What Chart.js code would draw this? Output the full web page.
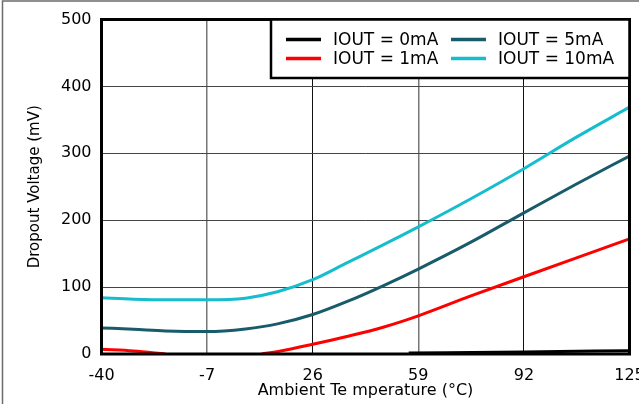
<!DOCTYPE html>
<html lang="en">
<head>
<meta charset="UTF-8">
<title>Dropout Voltage vs Ambient Temperature</title>
<script src="https://cdn.jsdelivr.net/npm/chart.js"></script>
<style>
  html, body { margin: 0; padding: 0; background: #fff; }
</style>
</head>
<body>
<canvas id="dropoutChart" width="639" height="404"></canvas>
<script>
// values (mV vs degC)
const xTicks = [-40, -7, 26, 59, 92, 125];
const yTicks = [0, 100, 200, 300, 400, 500];

const seriesNames = ['IOUT = 0mA', 'IOUT = 1mA', 'IOUT = 5mA', 'IOUT = 10mA'];
const seriesColors = ['#000000', '#ff0000', '#185b6a', '#16bdcd'];

const temps0mA = [56, 92, 125];
const volts0mA = [1.5, 3, 5];

// 1mA curve dips under 0 between -20 and 10, so it has a gap there
const temps1mA = [-40, -30, -20, -5, 10, 16, 26, 37, 48, 59, 75, 92, 108, 125];
const volts1mA = [7, 4.5, 0, null, 0, 4.5, 14.5, 26.5, 40, 57, 86, 115.5, 143, 172];

const temps = [-40, -30, -20, -7, 5, 15, 26, 37, 48, 59, 75, 92, 108, 125];
const volts5mA = [39, 37, 34.5, 33.5, 37.5, 45, 59, 79, 102, 127, 166, 211, 253, 296];
const volts10mA = [84, 82, 81, 81, 83.5, 93, 111, 137, 163, 190, 231, 277, 323, 369];

const toPoints = (xs, ys) => xs.map((x, i) => ({ x: x, y: ys[i] }));

const frameAndLegend = {
    id: 'frameAndLegend',
    beforeDraw(chart) {
        const { ctx, width, height } = chart;
        ctx.save();
        ctx.fillStyle = '#fff';
        ctx.fillRect(0, 0, width, height);
        // outer border of the figure (only top/left show)
        ctx.strokeStyle = '#6b6b6b';
        ctx.lineWidth = 1.5;
        ctx.beginPath();
        ctx.moveTo(2.5, height);
        ctx.lineTo(2.5, 1);
        ctx.lineTo(width, 1);
        ctx.stroke();
        ctx.restore();
    },
    afterDatasetsDraw(chart) {
        const { ctx, chartArea: a } = chart;
        ctx.save();
        ctx.strokeStyle = '#000';
        ctx.lineWidth = 3;
        ctx.strokeRect(a.left, a.top, a.right - a.left, a.bottom - a.top);

        // legend box, top right inside the plot
        const bw = 358.5, bh = 58.5;
        const bx = a.right - bw, by = a.top;
        ctx.fillStyle = '#fff';
        ctx.fillRect(bx, by, bw, bh);
        ctx.lineWidth = 2.5;
        ctx.strokeRect(bx, by, bw, bh);
        ctx.font = '17px "DejaVu Sans"';
        ctx.textBaseline = 'middle';
        chart.data.datasets.forEach((ds, i) => {
            const col = Math.floor(i / 2), row = i % 2;
            const lx = bx + 15 + col * 165;
            const ly = by + 20 + row * 19;
            ctx.strokeStyle = ds.borderColor;
            ctx.lineWidth = 3.5;
            ctx.beginPath();
            ctx.moveTo(lx, ly);
            ctx.lineTo(lx + 35, ly);
            ctx.stroke();
            ctx.fillStyle = '#000';
            ctx.fillText(ds.label, lx + 47, ly + 1);
        });
        ctx.restore();
    }
};

const allTemps = [temps0mA, temps1mA, temps, temps];
const allVolts = [volts0mA, volts1mA, volts5mA, volts10mA];

new Chart(document.getElementById('dropoutChart'), {
    type: 'line',
    data: {
        datasets: seriesNames.map((name, i) => ({
            label: name,
            data: toPoints(allTemps[i], allVolts[i]),
            borderColor: seriesColors[i],
            backgroundColor: seriesColors[i],
            borderWidth: 3,
            pointRadius: 0,
            fill: false,
            spanGaps: false,
            cubicInterpolationMode: 'monotone'
        }))
    },
    options: {
        responsive: false,
        animation: false,
        devicePixelRatio: 1,
        layout: { padding: { left: 0, right: 9.5, top: 19.5, bottom: 0 } },
        plugins: {
            legend: { display: false },
            tooltip: { enabled: false }
        },
        scales: {
            x: {
                type: 'linear',
                min: -40,
                max: 125,
                afterBuildTicks: s => { s.ticks = xTicks.map(v => ({ value: v })); },
                afterFit: s => { s.height = 50; s.paddingLeft = 0; s.paddingRight = 0; },
                ticks: {
                    color: '#000',
                    font: { family: 'DejaVu Sans', size: 16 },
                    padding: 12,
                    maxRotation: 0,
                    autoSkip: false
                },
                // alternating grey / black verticals like the original
                grid: {
                    color: c => (c.index % 2 ? '#777' : '#111'),
                    lineWidth: c => (c.index % 2 ? 1.5 : 1),
                    drawTicks: false
                },
                border: { display: false },
                title: {
                    display: true,
                    text: 'Ambient Te mperature (°C)',
                    color: '#000',
                    font: { family: 'DejaVu Sans', size: 16 },
                    padding: { top: 0, bottom: 4 }
                }
            },
            y: {
                min: 0,
                max: 500,
                afterBuildTicks: s => { s.ticks = yTicks.map(v => ({ value: v })); },
                afterFit: s => { s.width = 101.5; s.paddingTop = 0; s.paddingBottom = 0; },
                ticks: {
                    color: '#000',
                    font: { family: 'DejaVu Sans', size: 16 },
                    padding: 10
                },
                grid: { color: '#444', lineWidth: 1, drawTicks: false },
                border: { display: false },
                title: {
                    display: true,
                    text: 'Dropout Voltage (mV)',
                    color: '#000',
                    font: { family: 'DejaVu Sans', size: 15 },
                    padding: { top: 26, bottom: 0 }
                }
            }
        }
    },
    plugins: [frameAndLegend]
});
</script>
</body>
</html>
